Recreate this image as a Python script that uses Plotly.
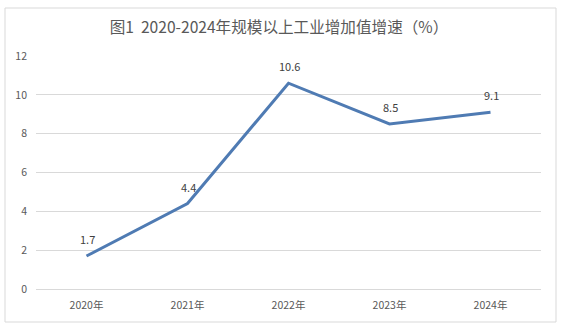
import plotly.graph_objects as go

categories = ["2020年", "2021年", "2022年", "2023年", "2024年"]
values = [1.7, 4.4, 10.6, 8.5, 9.1]
y_ticks = [0, 2, 4, 6, 8, 10, 12]

W, H = 566, 327
L, R, T, B = 36, 25, 56, 38
pw, ph = W - L - R, H - T - B

def px(x):
    return (x - L) / pw

def py(y):
    return (H - B - y) / ph

fig = go.Figure()
fig.add_trace(go.Scatter(
    x=categories, y=values, mode="lines",
    line=dict(color="#4f7bb3", width=3),
    hoverinfo="skip",
))

for c, v in zip(categories, values):
    fig.add_annotation(x=c, y=v, text=f"{v:.1f}", showarrow=False,
                       yshift=17, xshift=1, yanchor="middle",
                       font=dict(family="Noto Sans CJK SC", size=11, color="#404040"))

fig.update_layout(
    width=W, height=H,
    margin=dict(l=L, r=R, t=T, b=B),
    paper_bgcolor="white", plot_bgcolor="white",
    showlegend=False,
    font=dict(family="Noto Sans CJK SC", color="#595959"),
    title=dict(text="图1  2020-2024年规模以上工业增加值增速（%）",
               x=px(279), xref="paper", xanchor="center",
               y=1 - 28 / H, yanchor="middle",
               font=dict(size=15.6, color="#595959")),
    xaxis=dict(type="category", range=[-0.5, 4.5], showgrid=False,
               showline=False, zeroline=False, ticks="",
               ticklabelstandoff=8,
               tickfont=dict(size=10.5, color="#595959")),
    yaxis=dict(range=[0, 12], tickvals=y_ticks, showgrid=True,
               gridcolor="#d9d9d9", gridwidth=1, zeroline=True,
               zerolinecolor="#d9d9d9", zerolinewidth=1,
               showline=False, ticks="", ticklabelstandoff=8,
               tickfont=dict(size=10.5, color="#595959")),
    shapes=[dict(type="rect", xref="paper", yref="paper",
                 x0=px(5), x1=px(556), y0=py(322), y1=py(8),
                 line=dict(color="#d9d9d9", width=1), layer="below")],
)

fig.write_html("out.html")
